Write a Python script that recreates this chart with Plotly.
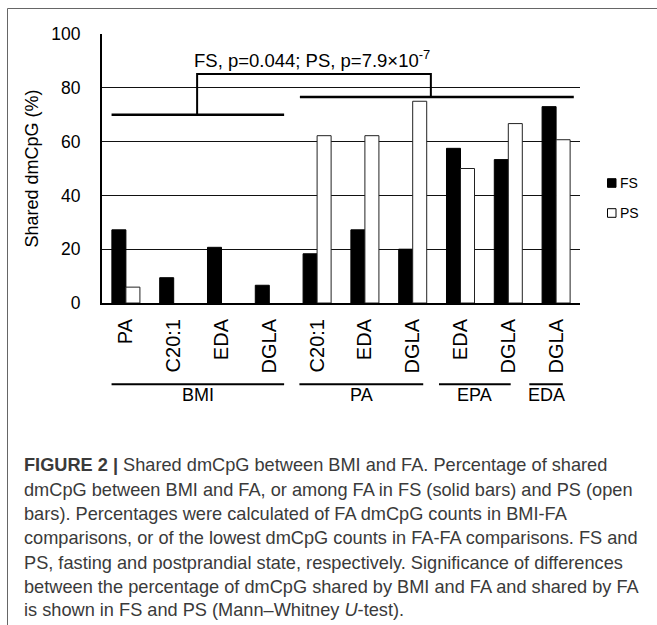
import plotly.graph_objects as go

# ---------------- data ----------------
categories = ["PA", "C20:1", "EDA", "DGLA", "C20:1", "EDA", "DGLA", "EDA", "DGLA", "DGLA"]
fs_values = [27.2, 9.4, 20.7, 6.6, 18.3, 27.2, 20.0, 57.5, 53.3, 73.0]
ps_values = [5.9, 0, 0, 0, 62.2, 62.2, 75.0, 50.0, 66.7, 60.7]
series_names = ["FS", "PS"]
groups = ["BMI", "PA", "EPA", "EDA"]
group_start = [-0.3, 3.63, 6.55, 8.44]
group_end = [3.31, 6.22, 8.05, 9.14]
group_center = [1.51, 4.92, 7.30, 8.79]
y_ticks = [0, 20, 40, 60, 80, 100]
y_title = "Shared dmCpG (%)"
sig_text = "FS, p=0.044; PS, p=7.9×10<sup>-7</sup>"
# bracket: left bar (BMI comparisons), right bar (FA comparisons), top connector
bracket_left = [-0.3, 3.31, 70.0]
bracket_right = [3.64, 9.37, 76.6]
bracket_top = [1.49, 6.38, 85.1]
caption_lines = [
    "<b>FIGURE 2 |</b> Shared dmCpG between BMI and FA. Percentage of shared",
    "dmCpG between BMI and FA, or among FA in FS (solid bars) and PS (open",
    "bars). Percentages were calculated of FA dmCpG counts in BMI-FA",
    "comparisons, or of the lowest dmCpG counts in FA-FA comparisons. FS and",
    "PS, fasting and postprandial state, respectively. Significance of differences",
    "between the percentage of dmCpG shared by BMI and FA and shared by FA",
    "is shown in FS and PS (Mann–Whitney <i>U</i>-test).",
]

# ---------------- geometry ----------------
W, H = 657, 625
L, R, T, B = 102, 77, 34, 322
PW, PH = W - L - R, H - T - B


def px_x(px):
    return (px - L) / PW


def px_y(py):
    return (H - B - py) / PH


FONT = "Liberation Sans, Arial, sans-serif"
x_idx = list(range(len(categories)))

fig = go.Figure()
fig.add_trace(go.Bar(x=x_idx, y=fs_values, name=series_names[0],
                     marker=dict(color="black",
                                 line=dict(color="black", width=[1 if v > 0 else 0 for v in fs_values])),
                     showlegend=False))
fig.add_trace(go.Bar(x=x_idx, y=ps_values, name=series_names[1],
                     marker=dict(color="white",
                                 line=dict(color="#222", width=[1 if v > 0 else 0 for v in ps_values])),
                     showlegend=False))

shapes = []
# outer frame
fx0, fy0 = px_x(7.5), px_y(8.5)
shapes.append(dict(type="path", xref="paper", yref="paper",
                   path=f"M{fx0},{px_y(640)} L{fx0},{fy0} L{px_x(680)},{fy0}",
                   line=dict(color="#666", width=1), layer="above"))
# bracket
for (a, b, yv) in (bracket_left, bracket_right):
    shapes.append(dict(type="line", xref="x", yref="y", x0=a, x1=b, y0=yv, y1=yv,
                       line=dict(color="black", width=2.5)))
shapes.append(dict(type="path", xref="x", yref="y",
                   path=f"M{bracket_top[0]},{bracket_left[2]} L{bracket_top[0]},{bracket_top[2]} "
                        f"L{bracket_top[1]},{bracket_top[2]} L{bracket_top[1]},{bracket_right[2]}",
                   line=dict(color="black", width=2)))
# group underlines
for a, b in zip(group_start, group_end):
    shapes.append(dict(type="line", xref="x", yref="paper", x0=a, x1=b,
                       y0=px_y(384.3), y1=px_y(384.3), line=dict(color="black", width=2)))
# legend squares
for fill, py in (("black", 183), ("white", 213)):
    shapes.append(dict(type="rect", xref="paper", yref="paper",
                       x0=px_x(607.5), x1=px_x(616), y0=px_y(py + 4.3), y1=px_y(py - 4.3),
                       fillcolor=fill, line=dict(color="black", width=1)))

annotations = []
annotations.append(dict(text=sig_text, xref="x", yref="y", x=3.90, y=90.7,
                        showarrow=False, font=dict(family=FONT, size=18.5, color="black"),
                        xanchor="center", yanchor="middle"))
for g, c in zip(groups, group_center):
    annotations.append(dict(text=g, xref="x", yref="paper", x=c, y=px_y(395),
                            showarrow=False, font=dict(family=FONT, size=18, color="black"),
                            xanchor="center", yanchor="middle"))
for name, py in zip(series_names, (183, 213)):
    annotations.append(dict(text=name, xref="paper", yref="paper", x=px_x(617.5), y=px_y(py),
                            showarrow=False, xanchor="left", yanchor="middle",
                            font=dict(family="Liberation Sans Narrow, Arial Narrow, sans-serif",
                                      size=14, color="black")))
cap_y = [465.5, 489.8, 514.1, 538.4, 562.7, 587.0, 610.5]
for line, py in zip(caption_lines, cap_y):
    annotations.append(dict(text=line, xref="paper", yref="paper", x=px_x(22), y=px_y(py),
                            showarrow=False, xanchor="left", yanchor="middle", align="left",
                            font=dict(family=FONT, size=18.2, color="#3a3a3a")))

fig.update_layout(
    width=W, height=H,
    margin=dict(l=L, r=R, t=T, b=B, pad=0),
    paper_bgcolor="white", plot_bgcolor="white",
    barmode="group", bargap=0.414, bargroupgap=0,
    shapes=shapes, annotations=annotations,
    showlegend=False,
    xaxis=dict(range=[-0.5, 9.5], tickmode="array", tickvals=x_idx, ticktext=categories,
               tickangle=-90, showgrid=False, zeroline=False, showline=True,
               linecolor="black", linewidth=2, ticks="", ticklabelstandoff=6,
               tickfont=dict(family=FONT, size=20, color="black"), fixedrange=True),
    yaxis=dict(range=[0, 100], tickmode="array", tickvals=y_ticks,
               showgrid=True, gridcolor="#111", gridwidth=1, zeroline=False,
               showline=True, linecolor="black", linewidth=2, ticks="",
               ticklabelstandoff=16,
               tickfont=dict(family=FONT, size=17.5, color="black"),
               title=dict(text=y_title, font=dict(family=FONT, size=18, color="black"), standoff=8),
               fixedrange=True),
)

fig.write_html("out.html", config={"displayModeBar": False},
               post_script="document.body.style.margin='0';document.body.style.overflow='hidden';")
